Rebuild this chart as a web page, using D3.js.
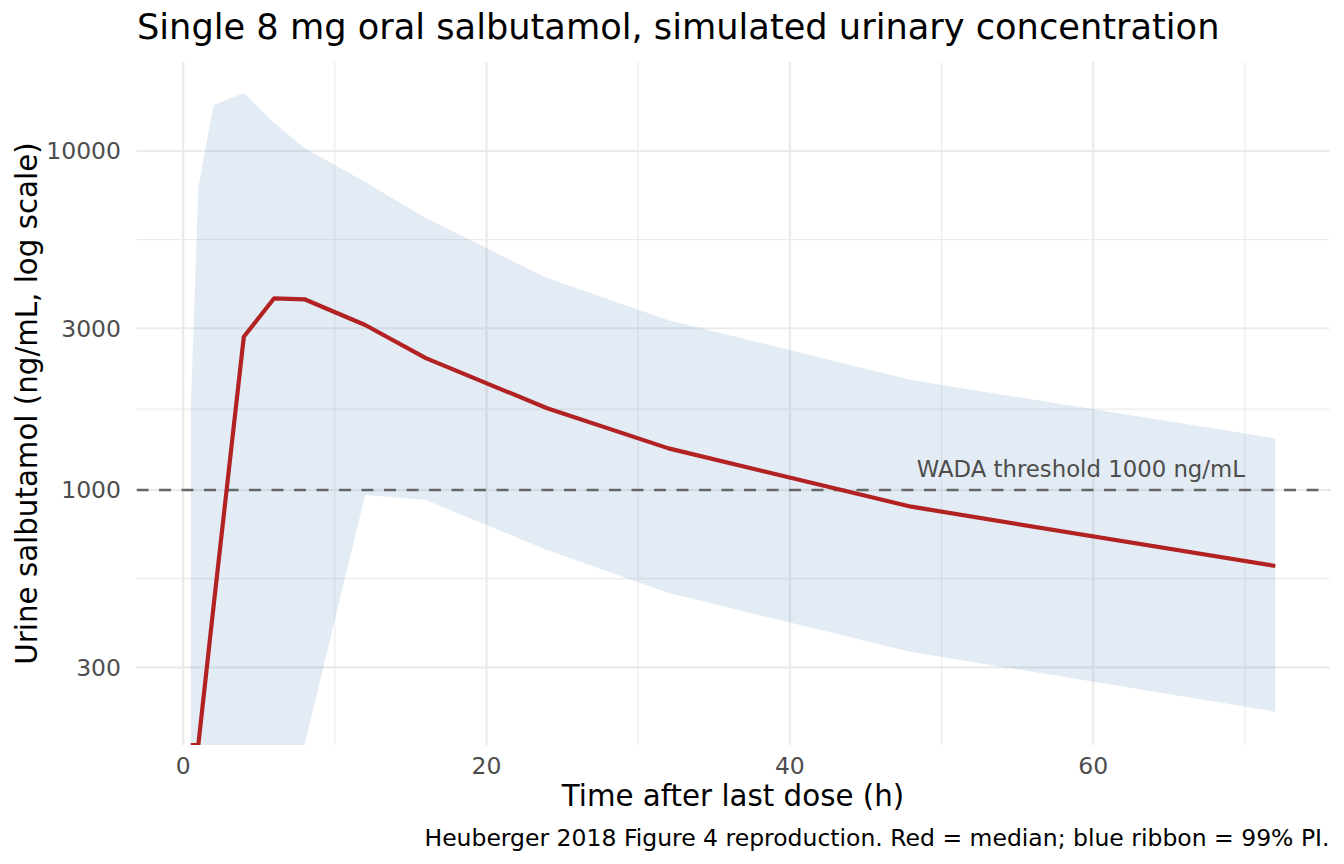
<!DOCTYPE html>
<html>
<head>
<meta charset="utf-8">
<script src="https://cdn.jsdelivr.net/npm/d3@7"></script>
<style>
  body { margin: 0; background: #fff; }
  text { font-family: "DejaVu Sans", sans-serif; }
</style>
</head>
<body>
<div id="chart"></div>
<script>
// simulated urinary salbutamol after a single 8 mg oral dose
var times = [0.5, 1, 2, 4, 6, 8, 12, 16, 24, 32, 48, 72];
var median = [60, 150, 452, 2832, 3677, 3652, 3067, 2450, 1742, 1327, 893, 597];
var upper = [1720, 7790, 13670, 14830, 12090, 10200, 8100, 6340, 4220, 3170, 2110, 1420];
var lower = [5, 20, 60, 110, 150, 176, 967, 934, 665, 497, 333, 222];

var xTicks = [0, 20, 40, 60];
var xMinor = [10, 30, 50, 70];
var yTicks = [300, 1000, 3000, 10000];
var yMinor = [548, 1732, 5477];
var yLimits = [177, 18300];
var threshold = 1000;

function drawChart() {
  var w = 1344, h = 864;
  var pLeft = 136.5, pRight = 1329.5, pTop = 62, pBottom = 745;

  var svg = d3.select("#chart").append("svg")
      .attr("width", w)
      .attr("height", h);

  var ext = d3.extent(times);
  var pad = (ext[1] - ext[0]) * 0.05;
  var x = d3.scaleLinear()
      .domain([ext[0] - pad, ext[1] + pad])
      .range([pLeft, pRight]);
  var y = d3.scaleLog()
      .domain(yLimits)
      .range([pBottom, pTop])
      .clamp(true);

  var data = times.map(function(t, i) {
    return { t: t, med: median[i], lo: lower[i], hi: upper[i] };
  });

  svg.append("clipPath").attr("id", "panel")
    .append("rect")
      .attr("x", pLeft).attr("y", pTop)
      .attr("width", pRight - pLeft).attr("height", pBottom - pTop);

  // grid
  var grid = svg.append("g");
  grid.selectAll(".xminor").data(xMinor).enter().append("line")
      .attr("x1", x).attr("x2", x).attr("y1", pTop).attr("y2", pBottom)
      .attr("stroke", "#ebebeb").attr("stroke-width", 1.1);
  grid.selectAll(".yminor").data(yMinor).enter().append("line")
      .attr("x1", pLeft).attr("x2", pRight).attr("y1", y).attr("y2", y)
      .attr("stroke", "#ebebeb").attr("stroke-width", 1.1);
  grid.selectAll(".xmajor").data(xTicks).enter().append("line")
      .attr("x1", x).attr("x2", x).attr("y1", pTop).attr("y2", pBottom)
      .attr("stroke", "#ebebeb").attr("stroke-width", 2.2);
  grid.selectAll(".ymajor").data(yTicks).enter().append("line")
      .attr("x1", pLeft).attr("x2", pRight).attr("y1", y).attr("y2", y)
      .attr("stroke", "#ebebeb").attr("stroke-width", 2.2);

  var plot = svg.append("g").attr("clip-path", "url(#panel)");

  // 99% prediction interval
  var area = d3.area()
      .x(function(d) { return x(d.t); })
      .y0(function(d) { return y(d.lo); })
      .y1(function(d) { return y(d.hi); });
  plot.append("path")
      .datum(data)
      .attr("d", area)
      .attr("fill", "steelblue")
      .attr("fill-opacity", 0.15);

  // WADA threshold
  plot.append("line")
      .attr("x1", pLeft).attr("x2", pRight)
      .attr("y1", y(threshold)).attr("y2", y(threshold))
      .attr("stroke", "#666666")
      .attr("stroke-width", 2.6)
      .attr("stroke-dasharray", "12,10.5");

  // median
  var line = d3.line()
      .x(function(d) { return x(d.t); })
      .y(function(d) { return y(d.med); });
  plot.append("path")
      .datum(data)
      .attr("d", line)
      .attr("fill", "none")
      .attr("stroke", "#b22222")
      .attr("stroke-width", 4.2)
      .attr("stroke-linejoin", "round");

  svg.append("text")
      .attr("x", x(70))
      .attr("y", y(threshold) - 13)
      .attr("text-anchor", "end")
      .attr("font-size", 22.8)
      .attr("fill", "#4d4d4d")
      .text("WADA threshold 1000 ng/mL");

  // tick labels (theme_minimal has no axis lines)
  svg.selectAll(".xlab").data(xTicks).enter().append("text")
      .attr("x", x)
      .attr("y", 774)
      .attr("text-anchor", "middle")
      .attr("font-size", 23.5)
      .attr("fill", "#4d4d4d")
      .text(function(d) { return d; });

  svg.selectAll(".ylab").data(yTicks).enter().append("text")
      .attr("x", 121)
      .attr("y", y)
      .attr("dy", "0.36em")
      .attr("text-anchor", "end")
      .attr("font-size", 23.5)
      .attr("fill", "#4d4d4d")
      .text(function(d) { return d; });

  svg.append("text")
      .attr("x", (pLeft + pRight) / 2)
      .attr("y", 806)
      .attr("text-anchor", "middle")
      .attr("font-size", 29.3)
      .attr("fill", "#000")
      .text("Time after last dose (h)");

  svg.append("text")
      .attr("transform", "translate(37," + (pTop + pBottom) / 2 + ") rotate(-90)")
      .attr("text-anchor", "middle")
      .attr("font-size", 29.3)
      .attr("fill", "#000")
      .text("Urine salbutamol (ng/mL, log scale)");

  svg.append("text")
      .attr("x", 137)
      .attr("y", 39)
      .attr("font-size", 35.2)
      .attr("fill", "#000")
      .text("Single 8 mg oral salbutamol, simulated urinary concentration");

  svg.append("text")
      .attr("x", pRight)
      .attr("y", 846)
      .attr("text-anchor", "end")
      .attr("font-size", 23.5)
      .attr("fill", "#000")
      .text("Heuberger 2018 Figure 4 reproduction. Red = median; blue ribbon = 99% PI.");
}

drawChart();
</script>
</body>
</html>
